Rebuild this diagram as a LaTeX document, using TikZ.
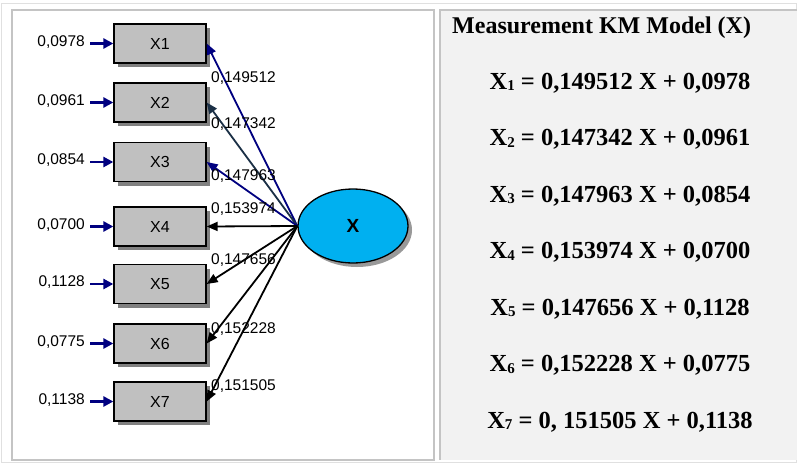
\documentclass[tikz,border=0pt]{standalone}
\usepackage{fontspec}
\setmainfont{Liberation Serif}
\setsansfont{Liberation Sans}
\usetikzlibrary{arrows.meta,shadows,shapes.geometric}

\definecolor{boxgray}{HTML}{C0C0C0}
\definecolor{latblue}{HTML}{00B0F0}
\definecolor{navy}{HTML}{000080}
\definecolor{slate}{HTML}{1B3046}
\definecolor{panelgray}{HTML}{F2F2F2}
\definecolor{framegray}{HTML}{C4C4C4}

\newcommand{\idx}[1]{{\fontsize{15}{15}\selectfont\raisebox{-1.5pt}{#1}}}

\tikzset{
  indicator/.style={draw, fill=boxgray, line width=1.3pt, minimum width=92pt, minimum height=39pt,
    font=\sffamily\fontsize{16}{18}\selectfont,
    drop shadow={shadow xshift=4pt, shadow yshift=-4pt, fill=black!50, opacity=1}},
  latent/.style={ellipse, draw, fill=latblue, line width=1.3pt, inner sep=0pt,
    minimum width=110pt, minimum height=74pt, font=\sffamily\bfseries\fontsize{19}{21}\selectfont,
    drop shadow={shadow xshift=4pt, shadow yshift=-4pt, fill=black!40, opacity=1}},
  errlabel/.style={font=\sffamily\fontsize{15.5}{17}\selectfont, inner sep=0pt, anchor=east},
  loading/.style={font=\sffamily\fontsize{15.5}{17}\selectfont, inner sep=0pt, anchor=west},
  errarrow/.style={navy, line width=2.8pt, -{Triangle[length=10pt,width=10pt]}},
  loadarrow/.style={line width=1.8pt, -{Triangle[length=11pt,width=9pt]}},
  eqtitle/.style={font=\bfseries\fontsize{24}{26}\selectfont, inner sep=0pt, anchor=base west},
  eqline/.style={font=\bfseries\fontsize{24.5}{27}\selectfont, inner sep=0pt, anchor=base}
}

\begin{document}
\begin{tikzpicture}[x=1pt,y=-1pt]
\useasboundingbox (0,0) rectangle (797,463);

% frames of the two panels
\fill[white] (0,0) rectangle (797,463);
\draw[black!12, line width=1pt] (1,3) rectangle (796,462);
\draw[framegray, line width=1.5pt] (12,10) rectangle (434,460);
\fill[panelgray] (440,10) rectangle (797,460);
\draw[framegray, line width=1.5pt] (797,10) -- (440,10) -- (440,460);

% indicators with their error terms
\foreach \i/\y/\err in {1/43.5/{0,0978}, 2/102.5/{0,0961}, 3/162/{0,0854}, 4/226.5/{0,0700},
    5/284/{0,1128}, 6/343.5/{0,0775}, 7/401.5/{0,1138}}{
  \node[indicator] (x\i) at (160,\y) {X\i};
  \node[errlabel] (e\i) at (85,\y-1.5) {\err};
  \draw[errarrow] ([xshift=5pt]e\i.east |- x\i) -- (x\i.west);
}

% latent variable
\node[latent] (lat) at (353,226) {X};

% loadings
\foreach \i/\col/\ly/\lam in {1/navy/78/{0,149512}, 2/slate/124/{0,147342}, 3/navy/176/{0,147963},
    4/black/209/{0,153974}, 5/black/260/{0,147656}, 6/black/329/{0,152228}, 7/black/386/{0,151505}}{
  \draw[loadarrow, \col] (lat.west) -- (x\i.east);
  \node[loading] (l\i) at (211,\ly) {\lam};
}

% measurement equations
\node[eqtitle] (title) at (452,33) {Measurement KM Model (X)};
\foreach \i/\lam/\err in {1/{0,149512}/{0,0978}, 2/{0,147342}/{0,0961}, 3/{0,147963}/{0,0854},
    4/{0,153974}/{0,0700}, 5/{0,147656}/{0,1128}, 6/{0,152228}/{0,0775}, 7/{0, 151505}/{0,1138}}{
  \node[eqline] (q\i) at (620,{89+56.5*(\i-1)}) {X\idx{\i} = \lam{} X + \err};
}
\end{tikzpicture}
\end{document}
